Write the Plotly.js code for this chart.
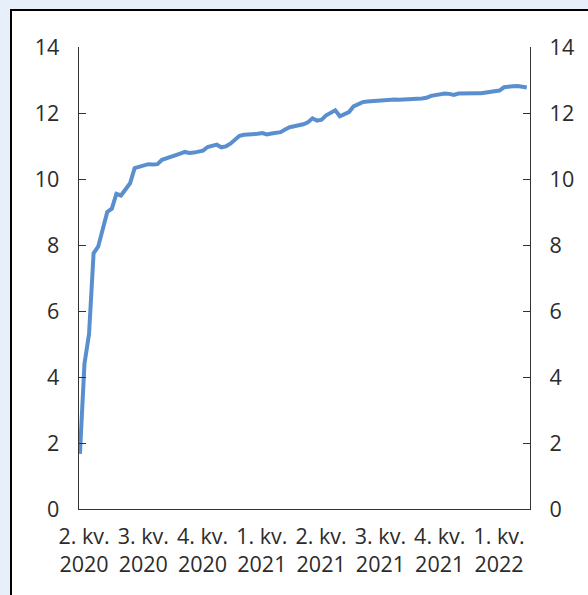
<!DOCTYPE html>
<html>
<head>
<meta charset="utf-8">
<script src="https://cdn.plot.ly/plotly-3.0.1.min.js"></script>
<style>
  html, body { margin:0; padding:0; width:588px; height:595px; overflow:hidden; background:#e7f0fa; }
  #frame { position:absolute; left:10px; top:9px; width:600px; height:620px; background:#ffffff; border:2.5px solid #000; box-sizing:border-box; }
  #chart { position:absolute; left:0; top:0; width:588px; height:595px; }
</style>
</head>
<body>
<div id="frame"></div>
<div id="chart"></div>
<script>
// Weekly observations (index = week number from start of 2nd quarter 2020)
const weekIndex = [
  0,1,2,3,4,5,6,7,8,9,10,11,12,13,14,15,16,17,18,19,
  20,21,22,23,24,25,26,27,28,29,30,31,32,33,34,35,36,37,38,39,
  40,41,42,43,44,45,46,47,48,49,50,51,52,53,54,55,56,57,58,59,
  60,61,62,63,64,65,66,67,68,69,70,71,72,73,74,75,76,77,78,79,
  80,81,82,83,84,85,86,87,88,89,90,91,92,93,94,95,96,97,98
];
const values = [
  1.67,4.40,5.30,7.75,7.95,8.50,9.00,9.10,9.55,9.50,
  9.70,9.87,10.33,10.37,10.39,10.45,10.44,10.45,10.58,10.62,
  10.68,10.73,10.77,10.82,10.79,10.80,10.83,10.86,10.97,11.02,
  11.04,10.96,10.99,11.07,11.18,11.31,11.34,11.34,11.35,11.37,
  11.39,11.35,11.38,11.41,11.42,11.50,11.57,11.60,11.62,11.66,
  11.72,11.84,11.77,11.80,11.93,12.00,12.08,11.90,11.96,12.03,
  12.20,12.28,12.33,12.35,12.36,12.38,12.39,12.41,12.43,12.41,
  12.40,12.40,12.41,12.42,12.43,12.44,12.46,12.52,12.55,12.57,
  12.59,12.58,12.55,12.59,12.60,12.60,12.60,12.60,12.60,12.62,
  12.64,12.66,12.68,12.78,12.81,12.81,12.82,12.81,12.77
];
const tickPositions = [0.9, 13.9, 26.9, 39.9, 52.9, 65.9, 78.9, 91.9];
const tickLabels = [
  "2. kv.<br>2020","3. kv.<br>2020","4. kv.<br>2020","1. kv.<br>2021",
  "2. kv.<br>2021","3. kv.<br>2021","4. kv.<br>2021","1. kv.<br>2022"
];
const yTicks = [0,2,4,6,8,10,12,14];

const lineColor = '#5a8fcf';
const axisColor = '#333333';
const fontSpec = {family:'"Open Sans", sans-serif', size:21.5, color:'#2b2b2b'};

const data = [
  {x: weekIndex, y: values, type:'scatter', mode:'lines',
   line:{color:lineColor, width:4}, hoverinfo:'skip', showlegend:false},
  {x: weekIndex, y: values, type:'scatter', mode:'lines', yaxis:'y2',
   line:{color:lineColor, width:0}, opacity:0, hoverinfo:'skip', showlegend:false}
];

const yCommon = {
  range:[0,14], tickvals:yTicks, ticktext:yTicks.map(String),
  ticks:'inside', ticklen:7, tickwidth:1, tickcolor:axisColor,
  showline:true, linecolor:axisColor, linewidth:1.3,
  showgrid:false, zeroline:false, fixedrange:true,
  tickfont:fontSpec, ticklabelstandoff:14
};

const layout = {
  width:588, height:595,
  margin:{l:79, r:58, t:47, b:86, pad:0},
  paper_bgcolor:'rgba(0,0,0,0)', plot_bgcolor:'rgba(0,0,0,0)',
  font:fontSpec,
  showlegend:false,
  xaxis:{
    range:[-0.2, 98.7], tickvals:tickPositions, ticktext:tickLabels,
    ticks:'', showline:true, linecolor:axisColor, linewidth:1.3,
    showgrid:false, zeroline:false, tickfont:fontSpec, tickangle:0, fixedrange:true,
    ticklabelstandoff:8
  },
  yaxis: Object.assign({side:'left'}, yCommon),
  yaxis2: Object.assign({side:'right', overlaying:'y'}, yCommon)
};

Plotly.newPlot('chart', data, layout, {staticPlot:true, displayModeBar:false});
</script>
</body>
</html>
